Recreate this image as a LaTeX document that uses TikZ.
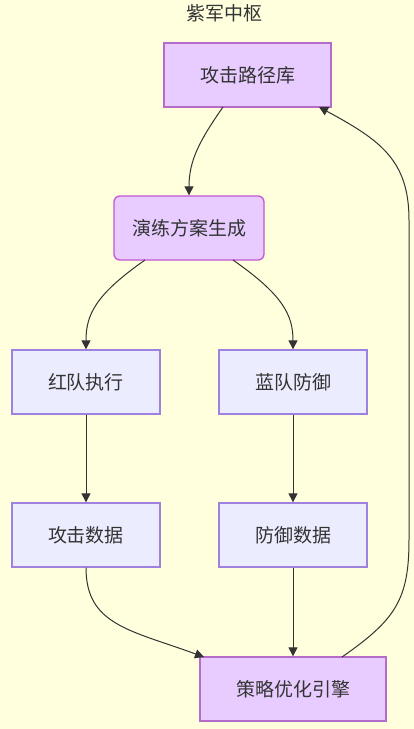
\documentclass[tikz,border=0pt]{standalone}
\usepackage{fontspec}
\setmainfont{Noto Sans CJK SC}
\usetikzlibrary{arrows.meta}
\definecolor{bgyellow}{HTML}{FFFFDE}
\definecolor{corefill}{HTML}{E8CCFF}
\definecolor{coredraw}{HTML}{B46CC8}
\definecolor{teamfill}{HTML}{ECECFF}
\definecolor{teamdraw}{HTML}{9F82E0}
\definecolor{inktext}{HTML}{333333}
\tikzset{
  corebox/.style={draw=coredraw,fill=corefill,line width=1.3pt,minimum width=167pt,minimum height=64pt,text=inktext,font=\fontsize{19}{22}\selectfont},
  teambox/.style={draw=teamdraw,fill=teamfill,line width=1.3pt,minimum width=148pt,minimum height=64pt,text=inktext,font=\fontsize{19}{22}\selectfont},
  flow/.style={draw=inktext,line width=1pt,-{Triangle[length=9pt,width=9pt]}}
}
\begin{document}
\begin{tikzpicture}[x=1pt,y=-1pt]
	\fill[bgyellow] (0,0) rectangle (414,729);
	\useasboundingbox (0,0) rectangle (414,729);
	\node[text=inktext,font=\fontsize{19}{22}\selectfont] (title) at (224,13) {紫军中枢};
	% core chain
	\node[corebox] (lib) at (247.5,75) {攻击路径库};
	\node[corebox,rounded corners=6pt,draw=coredraw!80!magenta,minimum width=150pt] (plan) at (189,228) {演练方案生成};
	\node[corebox,minimum width=186pt] (engine) at (293,689) {策略优化引擎};
	% red and blue
	\node[teambox] (red) at (86,382) {红队执行};
	\node[teambox] (blue) at (293,382) {蓝队防御};
	\node[teambox] (atkdata) at (86,535) {攻击数据};
	\node[teambox] (defdata) at (293,535) {防御数据};
	\coordinate (libout) at (223,107);
	\coordinate (libin) at (319,107);
	\coordinate (planl) at (145,260);
	\coordinate (planr) at (233,260);
	\coordinate (enginel) at (204,657);
	\coordinate (enginer) at (342,657);
	\draw[flow] (libout) .. controls (200,140) and (189,160) .. (plan.north);
	\draw[flow] (planl) .. controls (95,295) and (86,315) .. (red.north);
	\draw[flow] (planr) .. controls (283,295) and (293,315) .. (blue.north);
	\draw[flow] (red) -- (atkdata);
	\draw[flow] (blue) -- (defdata);
	\draw[flow] (atkdata.south) .. controls (86,625) and (130,630) .. (enginel);
	\draw[flow] (defdata) -- (engine);
	\draw[flow] (enginer) .. controls (395,620) and (409,600) .. (409,540) -- (409,220)
		.. controls (409,160) and (380,140) .. (libin);
\end{tikzpicture}
\end{document}
